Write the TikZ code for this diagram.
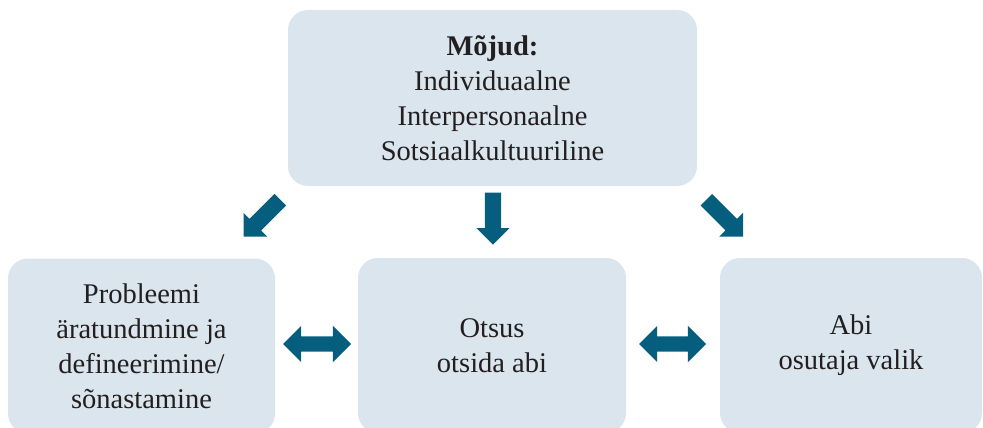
\documentclass[tikz,border=0pt]{standalone}
\usepackage{fontspec}
\setmainfont{Liberation Serif}
\usetikzlibrary{shapes.arrows}
\definecolor{boxfill}{HTML}{DAE5ED}
\definecolor{arrcol}{HTML}{055E7E}
\definecolor{txt}{HTML}{231F20}
\begin{document}
\begin{tikzpicture}[x=1pt,y=-1pt,
  box/.style={fill=boxfill, rounded corners=20pt, inner sep=0pt, align=center,
    font=\fontsize{28.5}{35}\selectfont, text=txt},
  sarr/.style={single arrow, fill=arrcol, draw=none, inner sep=0pt,
    single arrow head extend=8.5pt, minimum height=52pt, minimum width=0pt},
  darr/.style={double arrow, fill=arrcol, draw=none, inner sep=0pt,
    double arrow head extend=10.5pt, minimum height=68pt, minimum width=0pt},
]
\useasboundingbox (0,0) rectangle (983,428);
\clip (0,0) rectangle (983,428);

\node[box, minimum width=409pt, minimum height=176pt] (top) at (492.5,98)
  {\textbf{Mõjud:}\\Individuaalne\\Interpersonaalne\\Sotsiaalkultuuriline};

\node[box, minimum width=267pt, minimum height=175pt] (left) at (141.5,346)
  {Probleemi\\äratundmine ja\\defineerimine/\\sõnastamine};
\node[box, minimum width=268pt, minimum height=175pt] (mid) at (492,345.5)
  {Otsus\\otsida abi};
\node[box, minimum width=262pt, minimum height=175pt] (right) at (851,345.5)
  {Abi\\osutaja valik};

\node[sarr, rotate=-135, anchor=tip] (aL) at (243.3,236.7) {\rule{0pt}{16pt}};
\node[sarr, rotate=-90, anchor=tip] (aD) at (493,245) {\rule{0pt}{16pt}};
\node[sarr, rotate=-45, anchor=tip] (aR) at (743.3,236.7) {\rule{0pt}{16pt}};

\node[darr] (dL) at (317,344) {\rule{0pt}{15pt}};
\node[darr, minimum height=67pt] (dR) at (672.5,344) {\rule{0pt}{15pt}};
\end{tikzpicture}
\end{document}
